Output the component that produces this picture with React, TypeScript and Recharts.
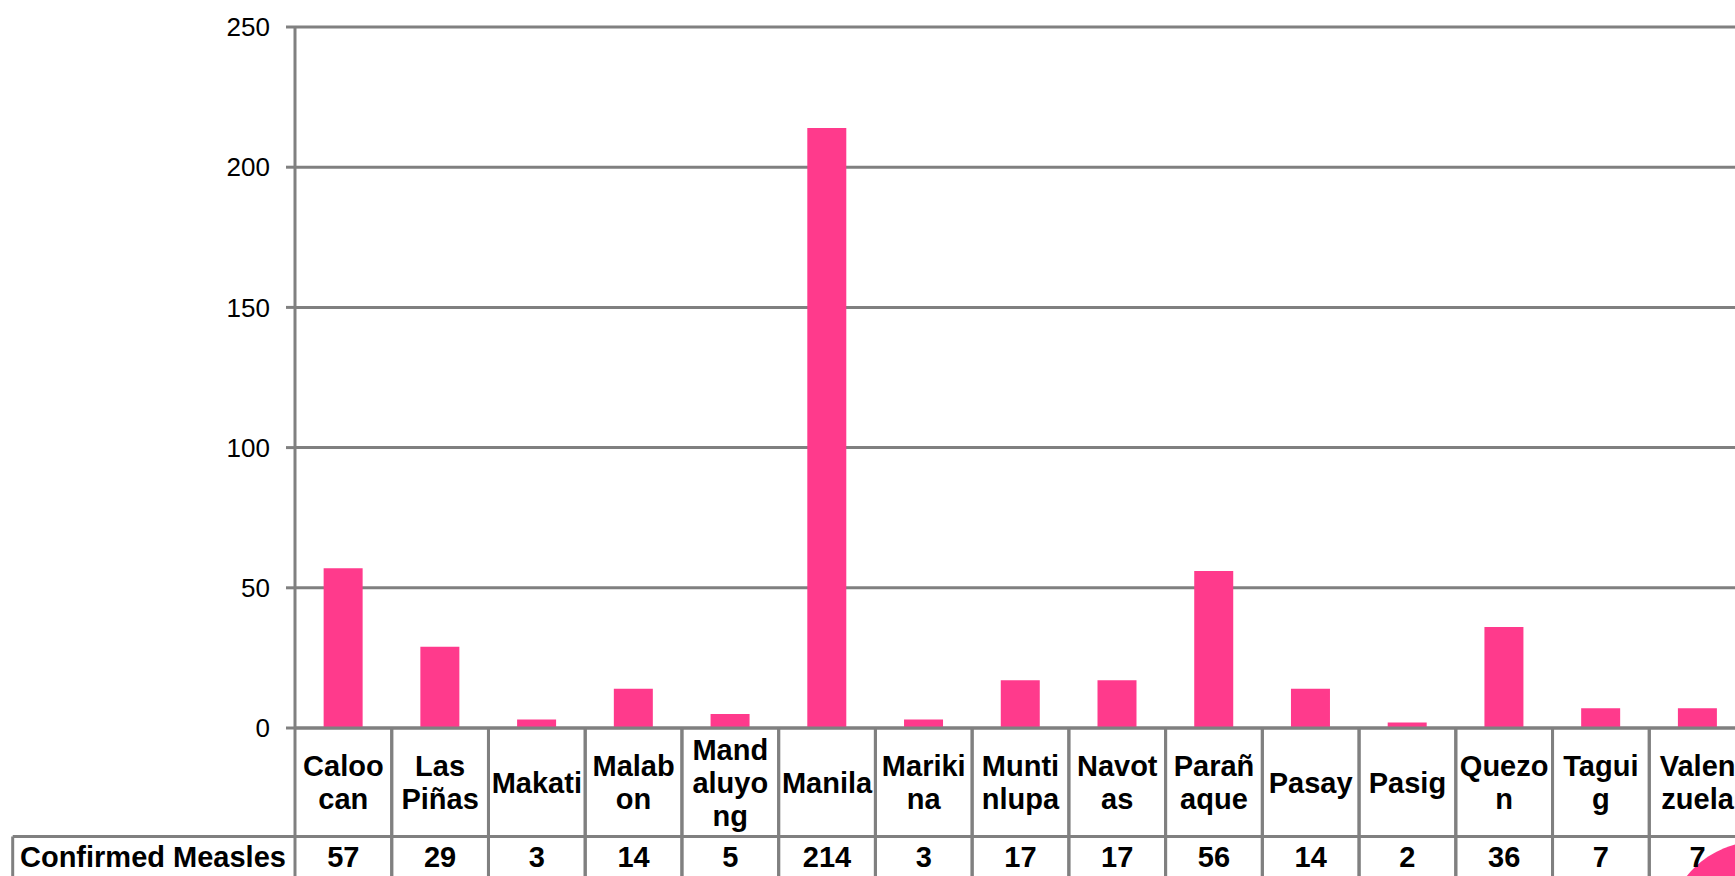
import { Bar, BarChart, CartesianGrid, XAxis, YAxis } from "recharts";

// Confirmed measles cases by city (Metro Manila)
const cities = [
  "Caloocan",
  "Las Piñas",
  "Makati",
  "Malabon",
  "Mandaluyong",
  "Manila",
  "Marikina",
  "Muntinlupa",
  "Navotas",
  "Parañaque",
  "Pasay",
  "Pasig",
  "Quezon",
  "Taguig",
  "Valenzuela",
];

// wrapped labels as they appear in the table cells
const cityLabelLines = [
  ["Caloo", "can"],
  ["Las", "Piñas"],
  ["Makati"],
  ["Malab", "on"],
  ["Mand", "aluyo", "ng"],
  ["Manila"],
  ["Mariki", "na"],
  ["Munti", "nlupa"],
  ["Navot", "as"],
  ["Parañ", "aque"],
  ["Pasay"],
  ["Pasig"],
  ["Quezo", "n"],
  ["Tagui", "g"],
  ["Valen", "zuela"],
];

const confirmedMeasles = [57, 29, 3, 14, 5, 214, 3, 17, 17, 56, 14, 2, 36, 7, 7];

const yTicks = [0, 50, 100, 150, 200, 250];

const seriesName = "Confirmed Measles";

const data = cities.map((city, i) => ({
  city,
  cases: confirmedMeasles[i],
}));

const FONT = '"Liberation Sans", Arial, sans-serif';
const GRID = "#808080";
const PINK = "#FF3A8C";

const W = 1760;
const H = 900;
const MARGIN = { top: 27, right: 14, left: 0, bottom: 0 };
const Y_AXIS_W = 295;
const X_AXIS_H = 172;
const BAND = (W - MARGIN.left - MARGIN.right - Y_AXIS_W) / cities.length;

const LABEL_ROW_H = 108.5;
const LINE_H = 33;
const TABLE_LEFT = 12.7;

function TableTick(props: any) {
  const { x, y, index } = props;
  const left = x - BAND / 2;
  const right = x + BAND / 2;
  const rowMid = y + LABEL_ROW_H / 2;
  const lines = cityLabelLines[index];
  const firstBase = rowMid + 10.5 - ((lines.length - 1) * LINE_H) / 2;
  const valueBase = y + LABEL_ROW_H + 30;

  return (
    <g>
      {index === 0 && (
        <g>
          <line x1={TABLE_LEFT} y1={y + LABEL_ROW_H} x2={W} y2={y + LABEL_ROW_H} stroke={GRID} strokeWidth={3} />
          <line x1={TABLE_LEFT} y1={y + LABEL_ROW_H} x2={TABLE_LEFT} y2={H} stroke={GRID} strokeWidth={3} />
          <text x={20} y={valueBase} fontFamily={FONT} fontWeight="bold" fontSize={29} fill="#000">
            {seriesName}
          </text>
        </g>
      )}
      <line x1={left} y1={y} x2={left} y2={H} stroke={GRID} strokeWidth={3} />
      <line x1={right} y1={y} x2={right} y2={H} stroke={GRID} strokeWidth={3} />
      <text textAnchor="middle" fontFamily={FONT} fontWeight="bold" fontSize={29} fill="#000">
        {lines.map((line, i) => (
          <tspan key={i} x={x} y={firstBase + i * LINE_H}>
            {line}
          </tspan>
        ))}
      </text>
      <text x={x} y={valueBase} textAnchor="middle" fontFamily={FONT} fontWeight="bold" fontSize={29} fill="#000">
        {confirmedMeasles[index]}
      </text>
    </g>
  );
}

export default function App() {
  return (
    <div
      style={{
        position: "absolute",
        top: 0,
        left: 0,
        width: 1735,
        height: 876,
        overflow: "hidden",
        background: "#fff",
      }}
    >
      {/* corner badge */}
      <div
        style={{
          position: "absolute",
          left: 1760 - 94,
          top: 935 - 94,
          width: 188,
          height: 188,
          borderRadius: "50%",
          background: PINK,
        }}
      />
      <div style={{ position: "absolute", top: 0, left: 0 }}>
        <BarChart width={W} height={H} data={data} margin={MARGIN} barCategoryGap="29.6%">
          <CartesianGrid vertical={false} stroke={GRID} strokeWidth={3} />
          <XAxis
            dataKey="city"
            height={X_AXIS_H}
            interval={0}
            tickLine={false}
            tickSize={0}
            tickMargin={0}
            axisLine={{ stroke: GRID, strokeWidth: 3 }}
            tick={(p: any) => <TableTick {...p} />}
          />
          <YAxis
            width={Y_AXIS_W}
            domain={[0, 250]}
            ticks={yTicks}
            interval={0}
            tickSize={9}
            tickMargin={16}
            tickLine={{ stroke: GRID, strokeWidth: 3 }}
            axisLine={{ stroke: GRID, strokeWidth: 3 }}
            tick={{ fontFamily: FONT, fontSize: 26, fill: "#000" }}
          />
          <Bar dataKey="cases" name={seriesName} fill={PINK} isAnimationActive={false} />
        </BarChart>
      </div>
    </div>
  );
}
